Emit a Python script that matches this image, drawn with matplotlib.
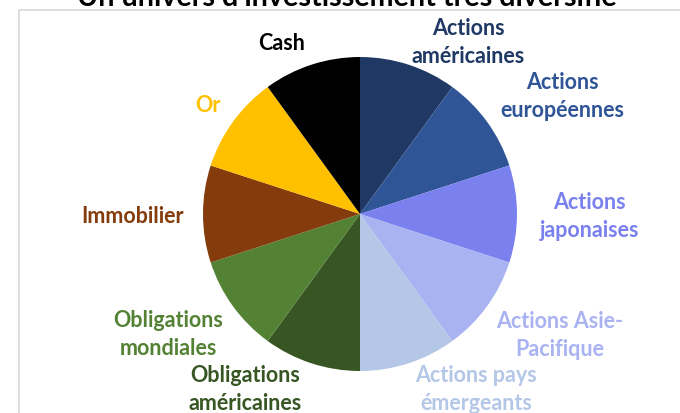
import matplotlib
matplotlib.use("Agg")
import matplotlib.pyplot as plt
from matplotlib.patches import Rectangle

title = "Un univers d'investissement très diversifié"
categories = ["Actions\naméricaines", "Actions\neuropéennes", "Actions\njaponaises",
              "Actions Asie-\nPacifique", "Actions pays\némergeants",
              "Obligations\naméricaines", "Obligations\nmondiales", "Immobilier", "Or", "Cash"]
values = [1, 1, 1, 1, 1, 1, 1, 1, 1, 1]
colors = ["#1F3864", "#2F5597", "#7B80EF", "#A9B3F2", "#B4C7E7",
          "#375623", "#548235", "#843C0C", "#FFC000", "#000000"]
label_colors = ["#1F3864", "#2F5597", "#7B80EF", "#A9B3F2", "#B4C7E7",
                "#375623", "#548235", "#843C0C", "#FFC000", "#000000"]
# label positions in pie-radius units
label_pos = [(0.69, 1.09), (1.29, 0.75), (1.46, -0.015), (1.27, -0.775), (0.74, -1.12),
             (-0.73, -1.12), (-1.22, -0.765), (-1.45, -0.015), (-0.97, 0.69), (-0.50, 1.085)]

W, H = 680, 413
cx, cy, R = 360, 214, 157
fig = plt.figure(figsize=(W / 100, H / 100), dpi=100)
fig.patch.set_facecolor("white")
ax = fig.add_axes([0, 0, 1, 1])

ax.pie(values, colors=colors, startangle=90, counterclock=False, radius=1,
       wedgeprops=dict(linewidth=0))
ax.set_xlim(-cx / R, (W - cx) / R)
ax.set_ylim(-(H - cy) / R, cy / R)
ax.set_aspect("auto")
ax.axis("off")

for lab, c, (x, y) in zip(categories, label_colors, label_pos):
    ax.text(x, y, lab, color=c, ha="center", va="center", fontsize=15.5,
            fontweight="bold", family="Lato", linespacing=1.4)

fig.patches.append(Rectangle((19 / W, -0.1), 1.2, 1 - 10 / H + 0.1, transform=fig.transFigure,
                             fill=False, edgecolor="#D9D9D9", linewidth=1.2))
fig.text(347 / W, 1 - 6 / H, title, ha="center", va="baseline", fontsize=20.7,
         fontweight="bold", family="Lato", color="black")

fig.savefig("out.png", dpi=100, facecolor="white")
